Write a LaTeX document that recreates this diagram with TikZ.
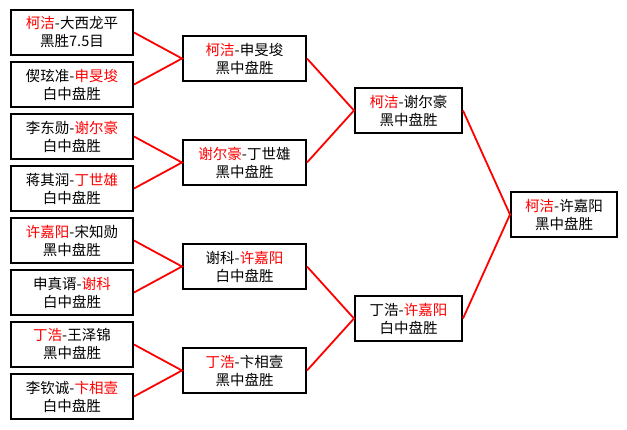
\documentclass[tikz,border=0pt]{standalone}
\usepackage{fontspec}
\usepackage{xcolor}
\newfontfamily\cjk{Noto Sans CJK SC}
\newcommand{\win}[1]{\textcolor{red}{#1}}

\begin{document}
\begin{tikzpicture}[x=1pt,y=-1pt,
  player/.style={draw=black,line width=2pt,inner sep=0pt,align=center,
    minimum height=45pt,font=\cjk\fontsize{14.5}{18}\selectfont},
  firstbox/.style={player,minimum width=122pt},
  secondbox/.style={player,minimum width=123pt},
  thirdbox/.style={player,minimum width=107pt},
  link/.style={draw=red,line width=1.8pt}]
  \useasboundingbox[fill=white] (0,0) rectangle (627,429);
  % first round
  \node[firstbox] (q1) at (72,32.5) {\win{柯洁}-大西龙平\\黑胜7.5目};
  \node[firstbox] (q2) at (72,84.5) {偰玹准-\win{申旻埈}\\白中盘胜};
  \node[firstbox] (q3) at (72,136.5) {李东勋-\win{谢尔豪}\\白中盘胜};
  \node[firstbox] (q4) at (72,188.5) {蒋其润-\win{丁世雄}\\白中盘胜};
  \node[firstbox] (q5) at (72,240.5) {\win{许嘉阳}-宋知勋\\黑中盘胜};
  \node[firstbox] (q6) at (72,292.5) {申真谞-\win{谢科}\\白中盘胜};
  \node[firstbox] (q7) at (72,344.5) {\win{丁浩}-王泽锦\\黑中盘胜};
  \node[firstbox] (q8) at (72,396.5) {李钦诚-\win{卞相壹}\\白中盘胜};
  % second round
  \node[secondbox] (s1) at (244.5,58.5) {\win{柯洁}-申旻埈\\黑中盘胜};
  \node[secondbox] (s2) at (244.5,162.5) {\win{谢尔豪}-丁世雄\\黑中盘胜};
  \node[secondbox] (s3) at (244.5,266.5) {谢科-\win{许嘉阳}\\白中盘胜};
  \node[secondbox] (s4) at (244.5,370.5) {\win{丁浩}-卞相壹\\黑中盘胜};
  % semi final and final
  \node[thirdbox] (t1) at (408.5,110.5) {\win{柯洁}-谢尔豪\\黑中盘胜};
  \node[thirdbox] (t2) at (408.5,318.5) {丁浩-\win{许嘉阳}\\白中盘胜};
  \node[thirdbox,minimum width=106pt] (champ) at (564,214.5) {\win{柯洁}-许嘉阳\\黑中盘胜};
  % connectors
  \draw[link] (q1.east) -- (s1.west) -- (q2.east);
  \draw[link] (q3.east) -- (s2.west) -- (q4.east);
  \draw[link] (q5.east) -- (s3.west) -- (q6.east);
  \draw[link] (q7.east) -- (s4.west) -- (q8.east);
  \draw[link] (s1.east) -- (t1.west) -- (s2.east);
  \draw[link] (s3.east) -- (t2.west) -- (s4.east);
  \draw[link] (t1.east) -- (champ.west) -- (t2.east);
\end{tikzpicture}
\end{document}
